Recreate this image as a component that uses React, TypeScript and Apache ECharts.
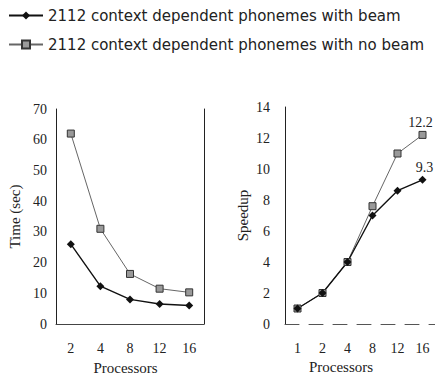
import React, { useEffect, useRef } from "react";
import * as echarts from "echarts";

const seriesNames = [
  "2112 context dependent phonemes with beam",
  "2112 context dependent phonemes with no beam",
];

const timeCategories = ["2", "4", "8", "12", "16"];
const timeBeam = [26, 12.3, 8, 6.5, 6];
const timeNoBeam = [62, 31, 16.3, 11.5, 10.3];

const speedCategories = ["1", "2", "4", "8", "12", "16"];
const speedBeam = [1, 2, 4, 7, 8.6, 9.3];
const speedNoBeam = [1, 2, 4, 7.6, 11, 12.2];

const SERIF = "Liberation Serif";
const SANS = "DejaVu Sans";

function lastLabelled(values: number[]) {
  return values.map((v, i) =>
    i === values.length - 1
      ? { value: v, label: { show: true } }
      : v
  );
}

export default function App() {
  const ref = useRef<HTMLDivElement>(null);

  useEffect(() => {
    if (!ref.current) return;
    const chart = echarts.init(ref.current, undefined, { renderer: "svg" });

    const axisLabel = { fontFamily: SERIF, fontSize: 14, color: "#222" };
    const nameStyle = { fontFamily: SERIF, fontSize: 15, color: "#222" };

    const beamStyle = {
      type: "line" as const,
      symbol: "diamond",
      symbolSize: 8,
      lineStyle: { color: "#111", width: 1.4 },
      itemStyle: { color: "#111" },
    };
    const noBeamStyle = {
      type: "line" as const,
      symbol: "rect",
      symbolSize: 7,
      lineStyle: { color: "#666", width: 1 },
      itemStyle: { color: "#999", borderColor: "#333", borderWidth: 1 },
    };

    chart.setOption({
      animation: false,
      backgroundColor: "#fff",
      legend: {
        orient: "vertical",
        left: 3,
        top: 3,
        itemWidth: 34,
        itemHeight: 10,
        itemGap: 14,
        textStyle: { fontFamily: SANS, fontSize: 15, color: "#222" },
        data: seriesNames,
      },
      grid: [
        { left: 56, top: 109, width: 148, height: 215 },
        { left: 285, top: 107, width: 151, height: 217 },
      ],
      xAxis: [
        {
          gridIndex: 0,
          type: "category",
          data: timeCategories,
          axisLine: { show: false },
          axisTick: { show: false },
          axisLabel: { ...axisLabel, margin: 17 },
          name: "Processors",
          nameLocation: "middle",
          nameGap: 36,
          nameTextStyle: { ...nameStyle, padding: [0, 9, 0, 0] },
        },
        {
          gridIndex: 0,
          type: "category",
          data: timeCategories,
          position: "top",
          axisLine: { show: true, lineStyle: { color: "#444", width: 1 } },
          axisTick: { show: false },
          axisLabel: { show: false },
        },
        {
          gridIndex: 1,
          type: "category",
          data: speedCategories,
          axisLine: {
            show: true,
            lineStyle: { color: "#555", width: 1, type: [14, 10] },
          },
          axisTick: { show: false },
          axisLabel: { ...axisLabel, margin: 17 },
          name: "Processors",
          nameLocation: "middle",
          nameGap: 34,
          nameTextStyle: { ...nameStyle, padding: [0, 38, 0, 0] },
        },
      ],
      yAxis: [
        {
          gridIndex: 0,
          type: "value",
          min: 0,
          max: 70,
          interval: 10,
          splitLine: { show: false },
          axisLine: { show: true, lineStyle: { color: "#222", width: 1 } },
          axisTick: { show: false },
          axisLabel: { ...axisLabel, margin: 9 },
          name: "Time (sec)",
          nameLocation: "middle",
          nameGap: 34,
          nameTextStyle: nameStyle,
        },
        {
          gridIndex: 0,
          type: "value",
          min: 0,
          max: 70,
          interval: 10,
          position: "right",
          splitLine: { show: false },
          axisLine: { show: true, lineStyle: { color: "#222", width: 1 } },
          axisTick: { show: false },
          axisLabel: { show: false },
        },
        {
          gridIndex: 1,
          type: "value",
          min: 0,
          max: 14,
          interval: 2,
          splitLine: { show: false },
          axisLine: { show: true, lineStyle: { color: "#222", width: 1 } },
          axisTick: { show: false },
          axisLabel: { ...axisLabel, margin: 15 },
          name: "Speedup",
          nameLocation: "middle",
          nameGap: 35,
          nameTextStyle: nameStyle,
        },
      ],
      series: [
        {
          ...noBeamStyle,
          name: seriesNames[1],
          xAxisIndex: 0,
          yAxisIndex: 0,
          data: timeNoBeam,
        },
        {
          ...beamStyle,
          name: seriesNames[0],
          xAxisIndex: 0,
          yAxisIndex: 0,
          data: timeBeam,
        },
        {
          ...noBeamStyle,
          name: seriesNames[1],
          xAxisIndex: 2,
          yAxisIndex: 2,
          data: lastLabelled(speedNoBeam),
          label: {
            show: false,
            position: "top",
            distance: 1,
            offset: [-2, 0],
            fontFamily: SERIF,
            fontSize: 14,
            color: "#222",
          },
        },
        {
          ...beamStyle,
          name: seriesNames[0],
          xAxisIndex: 2,
          yAxisIndex: 2,
          data: lastLabelled(speedBeam),
          label: {
            show: false,
            position: "top",
            distance: 1,
            offset: [2, 0],
            fontFamily: SERIF,
            fontSize: 14,
            color: "#222",
          },
        },
      ],
    });

    return () => chart.dispose();
  }, []);

  return (
    <div
      ref={ref}
      style={{ position: "fixed", left: 0, top: 0, width: 435, height: 382 }}
    />
  );
}
